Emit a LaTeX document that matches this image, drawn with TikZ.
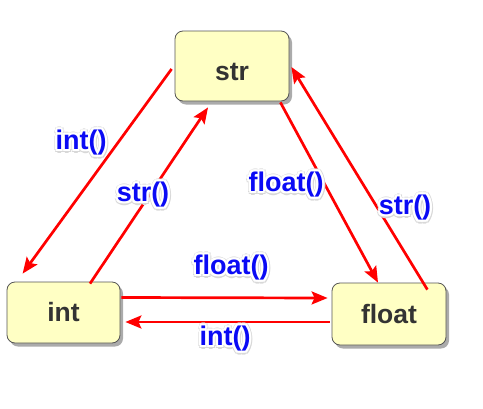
\documentclass[tikz,border=0pt]{standalone}
\usepackage{fontspec}
\setmainfont{Liberation Sans}
\usetikzlibrary{arrows.meta,shadows}
\definecolor{boxfill}{HTML}{FFFFC4}
\definecolor{boxdraw}{HTML}{555555}
\definecolor{boxtext}{HTML}{333333}
\definecolor{lblue}{HTML}{0A0AF5}
\definecolor{glowgray}{HTML}{D8D8D8}
\newcommand\glc[4]{\rlap{\hspace*{#1}\raisebox{#2}{\color{#3}#4}}}
\newcommand\glowtext[1]{%
  \glc{3.4pt}{-0.6pt}{glowgray}{#1}\glc{-3pt}{-0.6pt}{glowgray}{#1}\glc{0.2pt}{2.8pt}{glowgray}{#1}\glc{0.2pt}{-3.8pt}{glowgray}{#1}%
  \glc{2.6pt}{2pt}{glowgray}{#1}\glc{-2.2pt}{2pt}{glowgray}{#1}\glc{2.6pt}{-3pt}{glowgray}{#1}\glc{-2.2pt}{-3pt}{glowgray}{#1}%
  \glc{2.3pt}{0pt}{white}{#1}\glc{-2.3pt}{0pt}{white}{#1}\glc{0pt}{2.3pt}{white}{#1}\glc{0pt}{-2.3pt}{white}{#1}%
  \glc{1.7pt}{1.7pt}{white}{#1}\glc{-1.7pt}{1.7pt}{white}{#1}\glc{1.7pt}{-1.7pt}{white}{#1}\glc{-1.7pt}{-1.7pt}{white}{#1}%
  #1}
\tikzset{
  typebox/.style={draw=boxdraw, line width=0.8pt, fill=boxfill, rounded corners=8pt,
    font=\fontsize{26.5}{30}\selectfont\bfseries, text=boxtext,
    drop shadow={shadow xshift=3pt, shadow yshift=-3.5pt, fill=black!55, opacity=0.6},
    inner sep=0pt},
  conv/.style={draw=red, line width=2.7pt, -{Stealth[length=16pt,width=13pt,inset=3pt]}},
  lbl/.style={font=\fontsize{27}{30}\selectfont\bfseries, text=lblue, inner sep=0pt}
}
\begin{document}
\begin{tikzpicture}[x=1pt,y=-1pt]
\useasboundingbox (0,0) rectangle (483,408);
\node[typebox, minimum width=114pt, minimum height=70pt, text height=30pt, text depth=2pt] (str) at (232,66) {str};
\node[typebox, minimum width=113pt, minimum height=61pt] (int) at (63.5,312.5) {int};
\node[typebox, minimum width=114pt, minimum height=62pt] (float) at (389,314) {float};

\draw[conv] ([shift={(-3,3)}]str.west) -- ([shift={(16,-8)}]int.north west);
\draw[conv] ([shift={(26.5,2)}]int.north) -- ([shift={(-24,6)}]str.south);
\draw[conv] ([shift={(-9,1)}]str.south east) -- ([shift={(-11,0)}]float.north);
\draw[conv] ([shift={(-19,7)}]float.north east) -- ([shift={(2,1)}]str.east);
\draw[conv] ([shift={(1,-15)}]int.east) -- ([shift={(-4,-16)}]float.west);
\draw[conv] ([shift={(-2,8)}]float.west) -- ([shift={(5,9.5)}]int.east);

\node[lbl] (l1) at (81,143) {\glowtext{int()}};
\node[lbl] (l2) at (143,195) {\glowtext{str()}};
\node[lbl] (l3) at (286,185) {\glowtext{float()}};
\node[lbl] (l4) at (405,208) {\glowtext{str()}};
\node[lbl] (l5) at (231,268) {\glowtext{float()}};
\node[lbl] (l6) at (225,339) {\glowtext{int()}};
\end{tikzpicture}
\end{document}
